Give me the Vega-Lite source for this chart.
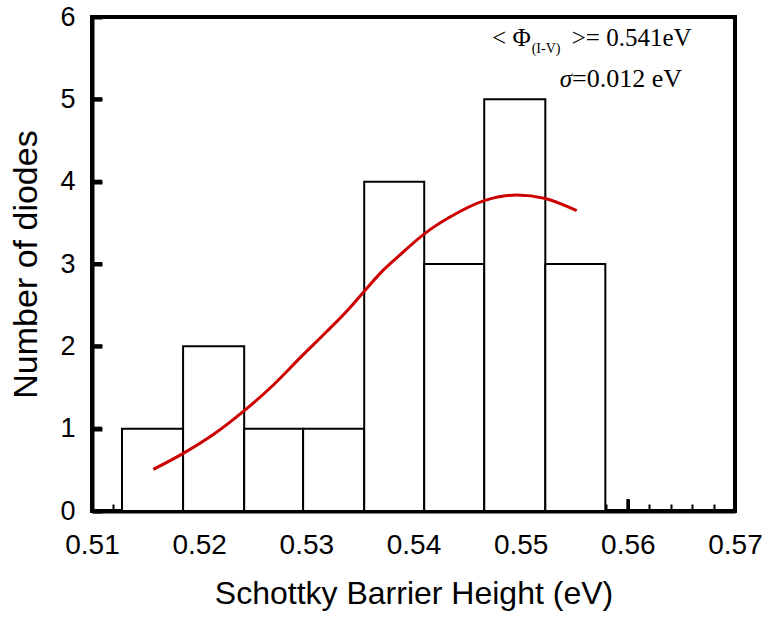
{
  "$schema": "https://vega.github.io/schema/vega-lite/v6.json",
  "width": 643,
  "height": 494,
  "autosize": {"type": "none"},
  "padding": {"left": 92, "top": 17, "right": 29, "bottom": 110},
  "background": "white",
  "config": {
    "view": {"stroke": "black", "strokeWidth": 4},
    "font": "Liberation Sans",
    "axis": {"domainColor": "black", "domainWidth": 4, "tickColor": "black", "labelColor": "black", "titleColor": "black", "grid": false, "labelFont": "Liberation Sans", "titleFont": "Liberation Sans", "titleFontWeight": "normal"}
  },
  "resolve": {"axis": {"x": "independent", "y": "independent"}},
  "datasets": {
    "bins": [
      {"start": 0.5128, "end": 0.5185, "count": 1},
      {"start": 0.5185, "end": 0.5242, "count": 2},
      {"start": 0.5242, "end": 0.5297, "count": 1},
      {"start": 0.5297, "end": 0.5354, "count": 1},
      {"start": 0.5354, "end": 0.5410, "count": 4},
      {"start": 0.5410, "end": 0.5466, "count": 3},
      {"start": 0.5466, "end": 0.5523, "count": 5},
      {"start": 0.5523, "end": 0.5579, "count": 3}
    ],
    "curve": [
      {"sbh": 0.51572, "n": 0.506},
      {"sbh": 0.51852, "n": 0.700},
      {"sbh": 0.52132, "n": 0.928},
      {"sbh": 0.52418, "n": 1.215},
      {"sbh": 0.52692, "n": 1.530},
      {"sbh": 0.52941, "n": 1.860},
      {"sbh": 0.53190, "n": 2.180},
      {"sbh": 0.53407, "n": 2.470},
      {"sbh": 0.53541, "n": 2.670},
      {"sbh": 0.53718, "n": 2.925},
      {"sbh": 0.53874, "n": 3.110},
      {"sbh": 0.54107, "n": 3.372},
      {"sbh": 0.54340, "n": 3.570},
      {"sbh": 0.54661, "n": 3.770},
      {"sbh": 0.54963, "n": 3.838},
      {"sbh": 0.55230, "n": 3.795},
      {"sbh": 0.55523, "n": 3.647}
    ],
    "yticks": [{"v": 1}, {"v": 2}, {"v": 3}, {"v": 4}, {"v": 5}],
    "xticks": [{"v": 0.52}, {"v": 0.53}, {"v": 0.54}, {"v": 0.55}, {"v": 0.56}]
  },
  "layer": [
    {
      "data": {"name": "bins"},
      "mark": {"type": "bar", "fill": "white", "stroke": "black", "strokeWidth": 2},
      "encoding": {
        "x": {
          "field": "start", "type": "quantitative",
          "scale": {"domain": [0.51, 0.57], "nice": false, "zero": false},
          "axis": {
            "orient": "bottom",
            "title": "Schottky Barrier Height (eV)",
            "titleFontSize": 32,
            "titlePadding": 19,
            "labelFontSize": 28,
            "labelOverlap": false,
            "values": [0.51, 0.52, 0.53, 0.54, 0.55, 0.56, 0.57],
            "format": ".2f",
            "ticks": true,
            "tickSize": -12,
            "tickWidth": 3,
            "labelPadding": 32,
            "labelFlush": false
          }
        },
        "x2": {"field": "end"},
        "y": {
          "field": "count", "type": "quantitative",
          "scale": {"domain": [0, 6], "nice": false},
          "axis": {
            "orient": "left",
            "title": "Number of diodes",
            "titleFontSize": 34,
            "titlePadding": 16,
            "labelFontSize": 27,
            "format": "d",
            "values": [0, 1, 2, 3, 4, 5, 6],
            "ticks": true,
            "tickSize": -10,
            "tickWidth": 4,
            "labelPadding": 27,
            "labelFlush": false,
            "zindex": 1
          }
        },
        "y2": {"datum": 0}
      }
    },
    {
      "data": {"name": "curve"},
      "mark": {"type": "line", "color": "#cc0000", "strokeWidth": 3, "interpolate": "monotone"},
      "encoding": {
        "x": {
          "field": "sbh", "type": "quantitative",
          "axis": {
            "orient": "bottom",
            "title": null,
            "labels": false,
            "domain": false,
            "values": [0.512, 0.514, 0.516, 0.518, 0.522, 0.524, 0.526, 0.528, 0.532, 0.534, 0.536, 0.538, 0.542, 0.544, 0.546, 0.548, 0.552, 0.554, 0.556, 0.558, 0.562, 0.564, 0.566, 0.568],
            "tickSize": -7,
            "tickWidth": 2
          }
        },
        "y": {"field": "n", "type": "quantitative", "axis": null}
      }
    },
    {
      "data": {"name": "yticks"},
      "mark": {"type": "tick", "orient": "horizontal", "color": "black", "size": 10, "thickness": 4, "opacity": 1},
      "encoding": {
        "x": {"datum": 0.51047, "type": "quantitative", "axis": null},
        "y": {"field": "v", "type": "quantitative", "axis": null}
      }
    },
    {
      "data": {"name": "xticks"},
      "transform": [{"filter": "datum.v > 0.5585"}],
      "mark": {"type": "tick", "orient": "vertical", "color": "black", "size": 12, "thickness": 3, "opacity": 1},
      "encoding": {
        "x": {"field": "v", "type": "quantitative", "axis": null},
        "y": {"datum": 0.073, "type": "quantitative", "axis": null}
      }
    },
    {
      "data": {"values": [{}]},
      "mark": {"type": "text", "text": "< Φ", "font": "Liberation Serif", "fontSize": 25, "align": "right", "baseline": "middle"},
      "encoding": {"x": {"datum": 0.55094, "type": "quantitative", "axis": null}, "y": {"datum": 5.75, "type": "quantitative", "axis": null}}
    },
    {
      "data": {"values": [{}]},
      "mark": {"type": "text", "text": "(I-V)", "font": "Liberation Serif", "fontSize": 14, "align": "left", "baseline": "middle"},
      "encoding": {"x": {"datum": 0.55103, "type": "quantitative", "axis": null}, "y": {"datum": 5.61, "type": "quantitative", "axis": null}}
    },
    {
      "data": {"values": [{}]},
      "mark": {"type": "text", "text": ">= 0.541eV", "font": "Liberation Serif", "fontSize": 25, "align": "left", "baseline": "middle"},
      "encoding": {"x": {"datum": 0.55476, "type": "quantitative", "axis": null}, "y": {"datum": 5.75, "type": "quantitative", "axis": null}}
    },
    {
      "data": {"values": [{}]},
      "mark": {"type": "text", "text": "σ", "font": "Liberation Serif", "fontStyle": "italic", "fontSize": 25, "align": "right", "baseline": "middle"},
      "encoding": {"x": {"datum": 0.55479, "type": "quantitative", "axis": null}, "y": {"datum": 5.25, "type": "quantitative", "axis": null}}
    },
    {
      "data": {"values": [{}]},
      "mark": {"type": "text", "text": "=0.012 eV", "font": "Liberation Serif", "fontSize": 26, "align": "left", "baseline": "middle"},
      "encoding": {"x": {"datum": 0.55479, "type": "quantitative", "axis": null}, "y": {"datum": 5.25, "type": "quantitative", "axis": null}}
    }
  ]
}
